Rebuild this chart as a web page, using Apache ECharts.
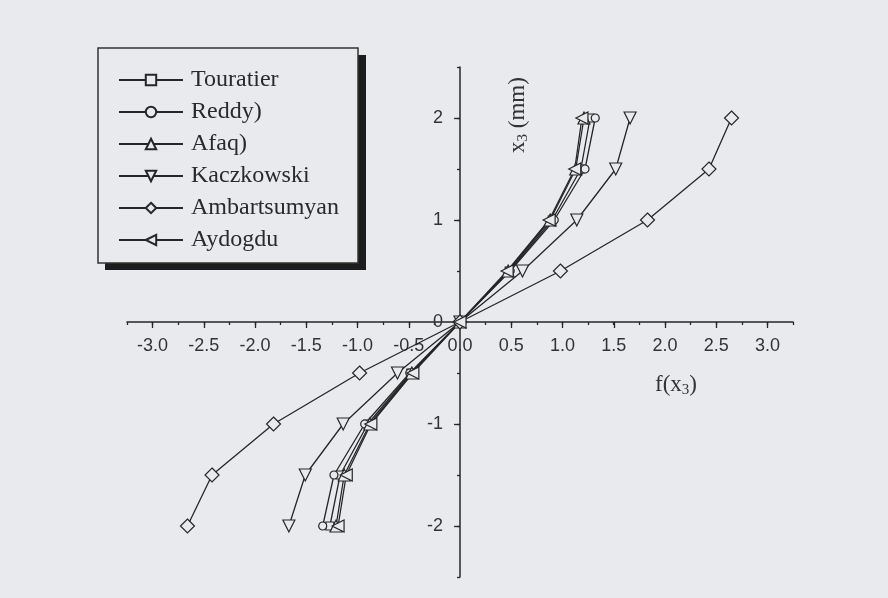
<!DOCTYPE html>
<html><head><meta charset="utf-8">
<script src="https://cdn.jsdelivr.net/npm/echarts@6/dist/echarts.min.js"></script>
<style>html,body{margin:0;padding:0;background:#e8eaed}#c{width:888px;height:598px}</style>
</head><body><div id="c"></div>
<script>
// depth coordinate x3 (mm)
const depth = [-2, -1.5, -1, -0.5, 0, 0.5, 1, 1.5, 2];
// f(x3) values per theory
const touratier    = [-1.27, -1.17, -0.90, -0.48, 0, 0.48, 0.90, 1.18, 1.27];
const reddy        = [-1.34, -1.23, -0.93, -0.49, 0, 0.49, 0.92, 1.22, 1.32];
const afaq         = [-1.21, -1.13, -0.88, -0.47, 0, 0.47, 0.88, 1.13, 1.21];
const kaczkowski   = [-1.67, -1.51, -1.14, -0.61, 0, 0.61, 1.14, 1.52, 1.66];
const ambartsumyan = [-2.66, -2.42, -1.82, -0.98, 0, 0.98, 1.83, 2.43, 2.65];
const aydogdu      = [-1.19, -1.11, -0.87, -0.46, 0, 0.46, 0.87, 1.12, 1.19];
const seriesNames  = ['Touratier', 'Reddy)', 'Afaq)', 'Kaczkowski', 'Ambartsumyan', 'Aydogdu'];
const seriesValues = [touratier, reddy, afaq, kaczkowski, ambartsumyan, aydogdu];
const symbols      = ['rect', 'circle', 'triangle', 'triangle', 'diamond', 'triangle'];
const rotations    = [0, 0, 0, 180, 0, 90];
const symbolSizes  = [8, 8, 12, 12, 14, 12];

const BG = '#e8eaed', INK = '#262626';
const chart = echarts.init(document.getElementById('c'), null, {renderer: 'canvas'});

const series = seriesNames.map((name, i) => ({
  name, type: 'line', xAxisIndex: 0, yAxisIndex: 0,
  data: seriesValues[i].map((v, k) => [v, depth[k]]),
  symbol: symbols[i], symbolSize: symbolSizes[i], symbolRotate: rotations[i],
  showAllSymbol: true,
  lineStyle: {color: INK, width: 1.3},
  itemStyle: {color: BG, borderColor: INK, borderWidth: 1.2},
  emphasis: {disabled: true}, animation: false, z: 3
}));

const tickFont = {fontFamily: 'Liberation Sans', fontSize: 18, color: '#333'};

// grid 1 spans x -3..3 (152.5..767.5) and y -2..2 (118..526); its axes are shifted onto the zero lines
chart.setOption({
  backgroundColor: BG,
  animation: false,
  grid: [
    {left: 127, right: 95, top: 67, bottom: 21},
    {left: 152.5, right: 120.5, top: 118, bottom: 72}
  ],
  xAxis: [
    {gridIndex: 0, type: 'value', min: -3.25, max: 3.25, interval: 0.25,
     axisLine: {onZero: true, lineStyle: {color: INK, width: 1.5}},
     axisTick: {show: true, length: 3, lineStyle: {color: INK, width: 1.3}},
     axisLabel: {show: false}, splitLine: {show: false}},
    {gridIndex: 1, type: 'value', min: -3, max: 3, interval: 0.5,
     position: 'bottom', offset: -204,
     axisLine: {show: false, onZero: false},
     axisTick: {show: true, length: 6, lineStyle: {color: INK, width: 1.3}},
     axisLabel: Object.assign({margin: 15, formatter: v => v.toFixed(1)}, tickFont),
     splitLine: {show: false}}
  ],
  yAxis: [
    {gridIndex: 0, type: 'value', min: -2.5, max: 2.5, interval: 0.5,
     axisLine: {onZero: true, lineStyle: {color: INK, width: 1.5}},
     axisTick: {show: true, length: 3, lineStyle: {color: INK, width: 1.3}},
     axisLabel: {show: false}, splitLine: {show: false}},
    {gridIndex: 1, type: 'value', min: -2, max: 2, interval: 1,
     position: 'left', offset: -307.5,
     axisLine: {show: false, onZero: false},
     axisTick: {show: true, length: 6, lineStyle: {color: INK, width: 1.3}},
     axisLabel: Object.assign({margin: 17, formatter: v => String(v)}, tickFont),
     splitLine: {show: false}}
  ],
  legend: {
    data: seriesNames, left: 98, top: 49, orient: 'vertical',
    padding: [19, 26, 12, 20], itemGap: 8, itemWidth: 64, itemHeight: 13,
    symbolRotate: 'inherit', z: 10,
    textStyle: {fontFamily: 'Liberation Serif', fontSize: 24, color: '#2a2a2a', padding: [0, 0, 0, 3]},
    selectedMode: false
  },
  graphic: [
    {type: 'rect', z: 1, shape: {x: 105, y: 55, width: 261, height: 215}, style: {fill: '#1c1c1c'}},
    {type: 'rect', z: 2, shape: {x: 98, y: 48, width: 260, height: 215},
     style: {fill: BG, stroke: '#333', lineWidth: 1.5}},
    {type: 'text', x: 518, y: 115, rotation: Math.PI / 2,
     style: {text: '{n|x}{s|3}{n| (mm)}', align: 'center', verticalAlign: 'middle', fill: '#333',
       rich: {n: {fontFamily: 'Liberation Serif', fontSize: 23, fill: '#333'},
              s: {fontFamily: 'Liberation Serif', fontSize: 15, fill: '#333', padding: [10, 0, 0, 0]}}}},
    {type: 'text', x: 676, y: 385,
     style: {text: '{n|f(x}{s|3}{n|)}', align: 'center', verticalAlign: 'middle', fill: '#333',
       rich: {n: {fontFamily: 'Liberation Serif', fontSize: 23, fill: '#333'},
              s: {fontFamily: 'Liberation Serif', fontSize: 15, fill: '#333', padding: [10, 0, 0, 0]}}}}
  ],
  series
});
</script></body></html>
